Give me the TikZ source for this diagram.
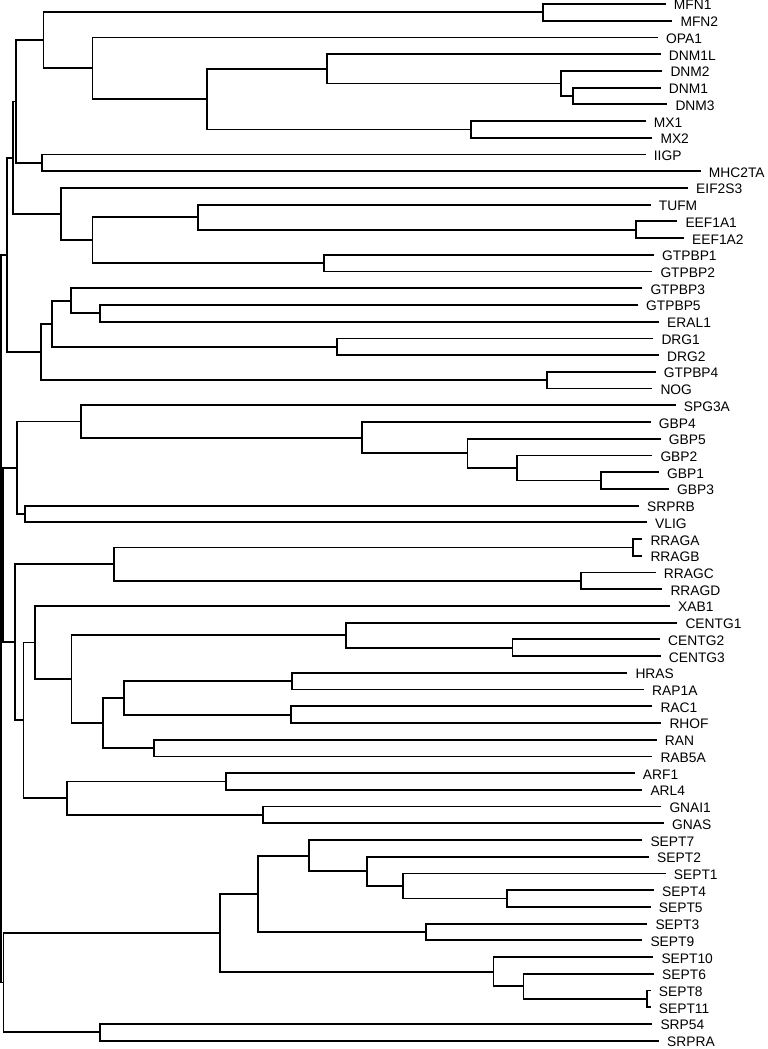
\documentclass[tikz,border=0pt]{standalone}
\usepackage{fontspec}
\setmainfont{Liberation Sans}
\usetikzlibrary{calc}
\tikzset{
  br/.style={line width=1.8pt, line join=miter, draw=black},
  lab/.style={anchor=base west, inner sep=0pt, font=\fontsize{13.8}{14}\selectfont, text=black},
}
\newcommand{\myleaf}[3]{\coordinate (#1) at (#3,{4+16.72*(#2-1)}); \node[lab] (#1t) at ($(#1)+(8,6)$) {#1};}
\newcommand{\myjoin}[4]{\path let \p1=(#3), \p2=(#4) in coordinate (#1) at (#2pt,{0.5*(\y1)+0.5*(\y2)}); \draw[br] (#3) -| (#1) |- (#4);}
\begin{document}
\begin{tikzpicture}[x=1pt,y=-1pt]
\useasboundingbox (0,0) rectangle (768,1049);
% leaves
\myleaf{MFN1}{1}{665.7}
\myleaf{MFN2}{2}{672.3}
\myleaf{OPA1}{3}{658}
\myleaf{DNM1L}{4}{660.7}
\myleaf{DNM2}{5}{662.3}
\myleaf{DNM1}{6}{660.7}
\myleaf{DNM3}{7}{667.3}
\myleaf{MX1}{8}{645.7}
\myleaf{MX2}{9}{652.3}
\myleaf{IIGP}{10}{645.7}
\myleaf{MHC2TA}{11}{700.7}
\myleaf{EIF2S3}{12}{688}
\myleaf{TUFM}{13}{650.7}
\myleaf{EEF1A1}{14}{677.3}
\myleaf{EEF1A2}{15}{684}
\myleaf{GTPBP1}{16}{654}
\myleaf{GTPBP2}{17}{652.3}
\myleaf{GTPBP3}{18}{642.3}
\myleaf{GTPBP5}{19}{638}
\myleaf{ERAL1}{20}{659}
\myleaf{DRG1}{21}{653.3}
\myleaf{DRG2}{22}{659}
\myleaf{GTPBP4}{23}{655.7}
\myleaf{NOG}{24}{652.3}
\myleaf{SPG3A}{25}{675.7}
\myleaf{GBP4}{26}{650.7}
\myleaf{GBP5}{27}{660.7}
\myleaf{GBP2}{28}{652.3}
\myleaf{GBP1}{29}{659}
\myleaf{GBP3}{30}{669}
\myleaf{SRPRB}{31}{639}
\myleaf{VLIG}{32}{647}
\myleaf{RRAGA}{33}{642.3}
\myleaf{RRAGB}{34}{642.3}
\myleaf{RRAGC}{35}{655.7}
\myleaf{RRAGD}{36}{662.3}
\myleaf{XAB1}{37}{670}
\myleaf{CENTG1}{38}{677.3}
\myleaf{CENTG2}{39}{660}
\myleaf{CENTG3}{40}{660.7}
\myleaf{HRAS}{41}{627.3}
\myleaf{RAP1A}{42}{644}
\myleaf{RAC1}{43}{652.3}
\myleaf{RHOF}{44}{661.3}
\myleaf{RAN}{45}{656.7}
\myleaf{RAB5A}{46}{652.3}
\myleaf{ARF1}{47}{634.7}
\myleaf{ARL4}{48}{642.3}
\myleaf{GNAI1}{49}{661.3}
\myleaf{GNAS}{50}{664}
\myleaf{SEPT7}{51}{642.3}
\myleaf{SEPT2}{52}{649}
\myleaf{SEPT1}{53}{665.7}
\myleaf{SEPT4}{54}{654}
\myleaf{SEPT5}{55}{650.7}
\myleaf{SEPT3}{56}{647.3}
\myleaf{SEPT9}{57}{642.3}
\myleaf{SEPT10}{58}{653.3}
\myleaf{SEPT6}{59}{654}
\myleaf{SEPT8}{60}{650.7}
\myleaf{SEPT11}{61}{650.7}
\myleaf{SRP54}{62}{652.3}
\myleaf{SRPRA}{63}{659}
% internal nodes
\myjoin{n1}{543}{MFN1}{MFN2}
\myjoin{n2}{573}{DNM1}{DNM3}
\myjoin{n3}{561.3}{DNM2}{n2}
\myjoin{n4}{327}{DNM1L}{n3}
\myjoin{n5}{470.7}{MX1}{MX2}
\myjoin{n6}{207}{n4}{n5}
\myjoin{n7}{92.5}{OPA1}{n6}
\myjoin{n8}{43.5}{n1}{n7}
\myjoin{n9}{41.7}{IIGP}{MHC2TA}
\myjoin{n10}{16}{n8}{n9}
\myjoin{n11}{635.7}{EEF1A1}{EEF1A2}
\myjoin{n12}{198}{TUFM}{n11}
\myjoin{n13}{324}{GTPBP1}{GTPBP2}
\myjoin{n14}{92.5}{n12}{n13}
\myjoin{n15}{61}{EIF2S3}{n14}
\myjoin{n16}{13.3}{n10}{n15}
\myjoin{n17}{100.3}{GTPBP5}{ERAL1}
\myjoin{n18}{71}{GTPBP3}{n17}
\myjoin{n19}{336.8}{DRG1}{DRG2}
\myjoin{n20}{51.6}{n18}{n19}
\myjoin{n21}{547.3}{GTPBP4}{NOG}
\myjoin{n22}{40.7}{n20}{n21}
\myjoin{n23}{7.3}{n16}{n22}
\myjoin{n24}{600.7}{GBP1}{GBP3}
\myjoin{n25}{516.6}{GBP2}{n24}
\myjoin{n26}{467.4}{GBP5}{n25}
\myjoin{n27}{362.2}{GBP4}{n26}
\myjoin{n28}{80.8}{SPG3A}{n27}
\myjoin{n29}{25.3}{SRPRB}{VLIG}
\myjoin{n30}{17}{n28}{n29}
\myjoin{n31}{633.3}{RRAGA}{RRAGB}
\myjoin{n32}{581.3}{RRAGC}{RRAGD}
\myjoin{n33}{114.2}{n31}{n32}
\myjoin{n34}{512.4}{CENTG2}{CENTG3}
\myjoin{n35}{346.3}{CENTG1}{n34}
\myjoin{n36}{291.7}{HRAS}{RAP1A}
\myjoin{n37}{291.2}{RAC1}{RHOF}
\myjoin{n38}{123.9}{n36}{n37}
\myjoin{n39}{153.7}{RAN}{RAB5A}
\myjoin{n40}{102.8}{n38}{n39}
\myjoin{n41}{71.5}{n35}{n40}
\myjoin{n42}{35.1}{XAB1}{n41}
\myjoin{n43}{226.1}{ARF1}{ARL4}
\myjoin{n44}{262.8}{GNAI1}{GNAS}
\myjoin{n45}{66.6}{n43}{n44}
\myjoin{n46}{23.4}{n42}{n45}
\myjoin{n47}{15}{n33}{n46}
\myjoin{n48}{3.3}{n30}{n47}
\myjoin{n49}{507.2}{SEPT4}{SEPT5}
\myjoin{n50}{402.9}{SEPT1}{n49}
\myjoin{n51}{367.1}{SEPT2}{n50}
\myjoin{n52}{308.9}{SEPT7}{n51}
\myjoin{n53}{426}{SEPT3}{SEPT9}
\myjoin{n54}{258}{n52}{n53}
\myjoin{n55}{646.7}{SEPT8}{SEPT11}
\myjoin{n56}{523.5}{SEPT6}{n55}
\myjoin{n57}{493.4}{SEPT10}{n56}
\myjoin{n58}{220.3}{n54}{n57}
\myjoin{n59}{100.3}{SRP54}{SRPRA}
\myjoin{n60}{3.5}{n58}{n59}
\myjoin{n61}{1}{n23}{n48}
\myjoin{n62}{1}{n61}{n60}
\end{tikzpicture}
\end{document}
